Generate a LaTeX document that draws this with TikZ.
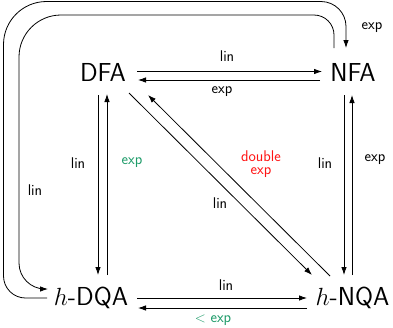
\documentclass[tikz,border=0pt]{standalone}
\usetikzlibrary{arrows.meta,calc}
\definecolor{expgreen}{RGB}{30,155,105}
\definecolor{dred}{RGB}{255,20,20}
\begin{document}
\begin{tikzpicture}[x=1pt,y=-1pt,
  state/.style={inner sep=0pt,anchor=base,font=\sffamily\fontsize{26}{29}\selectfont},
  lbl/.style={inner sep=0pt,font=\sffamily\fontsize{15.5}{17}\selectfont},
  conn/.style={line width=0.8pt,-{Latex[length=8pt,width=5.5pt]}},
  loop/.style={line width=0.8pt}]
\useasboundingbox (0,0) rectangle (393,327);
\node[state] (DFA) at (103,81) {DFA};
\node[state] (NFA) at (353,81) {NFA};
\node[state] (DQA) at (91,305) {$h$-DQA};
\node[state] (NQA) at (352.5,305) {$h$-NQA};
% top pair
\draw[conn] ($(DFA.base)+(34,-9.5)$) -- ($(NFA.base)+(-31,-9.5)$);
\draw[conn] ($(NFA.base)+(-33,-1)$) -- ($(DFA.base)+(35,-1)$);
\node[lbl] (l1) at (227,56) {lin};
\node[lbl] (l2) at (222,92) {exp};
% left pair
\draw[conn] ($(DFA.base)+(-5,14)$) -- ($(DQA.base)+(7,-30)$);
\draw[conn] ($(DQA.base)+(16,-30)$) -- ($(DFA.base)+(4,13)$);
\node[lbl] (l3) at (78,163) {lin};
\node[lbl,text=expgreen] (l4) at (132,163) {exp};
% right pair
\draw[conn] ($(NFA.base)+(-9,14)$) -- ($(NQA.base)+(-8.5,-30)$);
\draw[conn] ($(NQA.base)+(-0.5,-30)$) -- ($(NFA.base)+(-1,14)$);
\node[lbl] (l5) at (325,163) {lin};
\node[lbl] (l6) at (375,160) {exp};
% diagonal pair
\draw[conn] ($(DFA.base)+(26,12)$) -- ($(NQA.base)+(-40.5,-30)$);
\draw[conn] ($(NQA.base)+(-22.5,-29)$) -- ($(DFA.base)+(45,14)$);
\node[lbl] (l7) at (220,203) {lin};
\node[lbl,text=dred,anchor=base] (l8a) at (261,161) {double};
\node[lbl,text=dred,anchor=base] (l8b) at (261,174) {exp};
% bottom pair
\draw[conn] ($(DQA.base)+(46,-7)$) -- ($(NQA.base)+(-45.5,-7)$);
\draw[conn] ($(NQA.base)+(-45.5,3)$) -- ($(DQA.base)+(47,3)$);
\node[lbl] (l9) at (226,285) {lin};
\node[lbl,text=expgreen] (l10) at (213,320) {$<$ exp};
% outer loop: h-DQA -> NFA
\draw[conn] ($(DQA.base)+(-44,-7)$) [rounded corners=22pt] -- (3.5,298) [rounded corners=43pt] -- (3.5,1.5) [rounded corners=25pt] -- (346,1.5) [sharp corners] -- ($(NFA.base)+(-7,-33)$);
\node[lbl] (l11) at (372,28) {exp};
% inner loop: NFA -> h-DQA
\draw[conn] ($(NFA.base)+(-19,-33)$) [rounded corners=20pt] -- (334,15) [rounded corners=42pt] -- (19,15) [rounded corners=26pt] -- (19,289) [sharp corners] -- ($(DQA.base)+(-43,-16)$);
\node[lbl] (l12) at (35,190) {lin};
\end{tikzpicture}
\end{document}
